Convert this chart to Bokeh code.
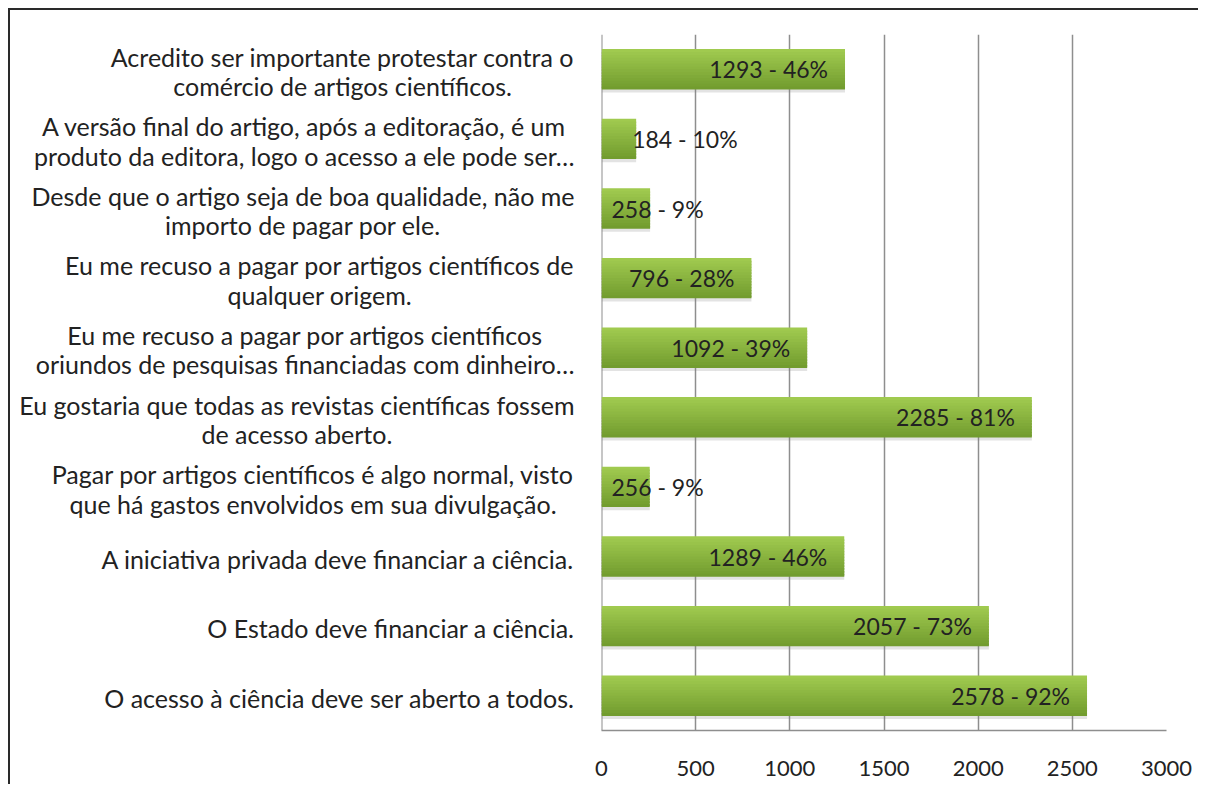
from bokeh.plotting import figure
from bokeh.models import ColumnDataSource, FactorRange, Range1d, FixedTicker, Span
from bokeh.transform import dodge
from bokeh.core.properties import value
from bokeh.embed import file_html
from bokeh.resources import INLINE

# ---- data (top to bottom as in the chart) ----
categories = [
    "Acredito ser importante protestar contra o\ncomércio de artigos científicos.",
    "A versão final do artigo, após a editoração, é um\nproduto da editora, logo o acesso a ele pode ser…",
    "Desde que o artigo seja de boa qualidade, não me\nimporto de pagar por ele.",
    "Eu me recuso a pagar por artigos científicos de\nqualquer origem.",
    "Eu me recuso a pagar por artigos científicos\noriundos de pesquisas financiadas com dinheiro…",
    "Eu gostaria que todas as revistas científicas fossem\nde acesso aberto.",
    "Pagar por artigos científicos é algo normal, visto\nque há gastos envolvidos em sua divulgação.",
    "A iniciativa privada deve financiar a ciência.",
    "O Estado deve financiar a ciência.",
    "O acesso à ciência deve ser aberto a todos.",
]
counts = [1293, 184, 258, 796, 1092, 2285, 256, 1289, 2057, 2578]
percents = [46, 10, 9, 28, 39, 81, 9, 46, 73, 92]
x_ticks = [0, 500, 1000, 1500, 2000, 2500, 3000]

FONT = "Lato"
TXT = "#222222"
GRID = "#8e8e8e"

labels = [f"{c} - {p}%" for c, p in zip(counts, percents)]
lab_x, lab_align, lab_off = [], [], []
for c in counts:
    if c >= 500:
        lab_x.append(c); lab_align.append("right"); lab_off.append(-17)
    elif c < 200:
        lab_x.append(c); lab_align.append("left"); lab_off.append(-4)
    else:
        lab_x.append(0); lab_align.append("left"); lab_off.append(10)

src = ColumnDataSource(dict(cat=categories, val=counts, lab=labels,
                            lx=lab_x, la=lab_align, lo=lab_off,
                            zero=[0] * len(counts)))

p = figure(width=1190, height=776, output_backend="svg", toolbar_location=None,
           y_range=FactorRange(factors=categories[::-1]),
           x_range=Range1d(x_ticks[0], x_ticks[-1]),
           min_border_left=591, min_border_right=34,
           min_border_top=24, min_border_bottom=56)
p.styles = {"border-top": "2px solid #2a2a2a", "border-left": "2px solid #2a2a2a",
            "margin-left": "8px", "margin-top": "8px"}
p.outline_line_color = None
p.background_fill_color = "white"
p.border_fill_color = "white"

# grid
p.ygrid.grid_line_color = None
p.xgrid.grid_line_color = GRID
p.xgrid.grid_line_width = 1.5
p.xgrid.ticker = FixedTicker(ticks=x_ticks)

# vertical axis line at 0
p.add_layout(Span(location=x_ticks[0], dimension="height", line_color=GRID,
                  line_width=2, level="underlay"))

# axes
p.xaxis.ticker = FixedTicker(ticks=x_ticks)
p.xaxis.axis_line_color = GRID
p.xaxis.axis_line_width = 1.5
p.xaxis.major_tick_line_color = None
p.xaxis.minor_tick_line_color = None
p.xaxis.major_label_text_font = FONT
p.xaxis.major_label_text_font_size = "22px"
p.xaxis.major_label_text_color = TXT
p.xaxis.major_label_standoff = 24
p.yaxis.visible = False

# bar shadow
H = 0.58
p.hbar(y=dodge("cat", -0.045, range=p.y_range), left=0, right="val", height=H,
       source=src, fill_color="#7f7f7f", fill_alpha=0.22, line_color=None)

# bars as a vertical gradient (light top -> darker bottom)
top_rgb = (0xa0, 0xca, 0x4f)
bot_rgb = (0x72, 0x9c, 0x2f)
N = 14
for i in range(N):
    t = i / (N - 1)
    col = "#%02x%02x%02x" % tuple(int(round(a + (b - a) * t)) for a, b in zip(top_rgb, bot_rgb))
    h = H / N
    top = H / 2 - i * h
    hh = h * (1.6 if i < N - 1 else 1.0)
    off = top - hh / 2
    p.hbar(y=dodge("cat", off, range=p.y_range), left=0, right="val",
           height=hh, source=src, fill_color=col, line_color=None)

# value labels
p.text(x="lx", y="cat", text="lab", source=src, text_align="la", x_offset="lo",
       text_baseline="middle", text_font=value(FONT), text_font_size="23px",
       text_color=TXT)

# category labels (multi-line, lines centered, block right-anchored)
r = p.text(x="zero", y="cat", text="cat", source=src, x_offset=-27, y_offset=2,
           anchor="center_right", text_align="center", text_baseline="middle",
           text_font=value(FONT), text_font_size="25px", text_color=TXT,
           text_line_height=0.98)
r.level = "overlay"

open("out.html", "w").write(file_html(p, INLINE))
